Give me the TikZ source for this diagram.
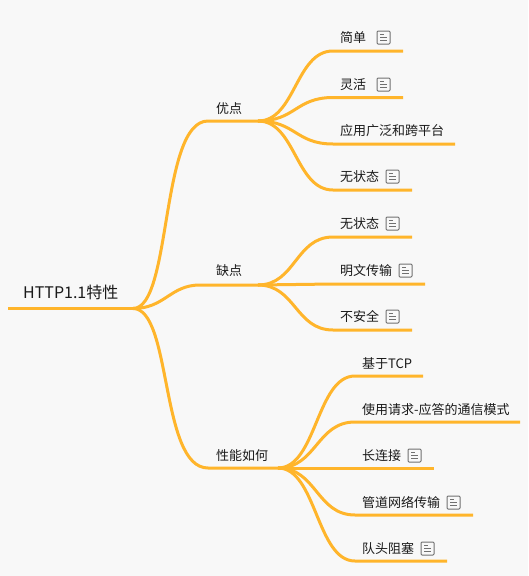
\documentclass[tikz,border=0pt]{standalone}
\usepackage{fontspec}
\setmainfont{Noto Sans CJK SC}
\usetikzlibrary{calc}
\definecolor{bg}{HTML}{F8F8F8}
\definecolor{wire}{HTML}{FFB52B}
\definecolor{ink}{HTML}{1A1A1A}
\definecolor{icon}{HTML}{707070}
\tikzset{
  wireline/.style={draw=wire,line width=3pt,line cap=butt,line join=round},
  label/.style={inner sep=0pt,anchor=west,text=ink,font=\fontsize{13}{15}\selectfont},
  rootlabel/.style={inner sep=0pt,anchor=west,text=ink,font=\fontsize{16}{18}\selectfont},
  noteicon/.style={draw=icon,line width=1pt,rounded corners=1pt,minimum size=13pt,inner sep=0pt,
    path picture={
      \draw[icon,line width=1pt]
        ($(path picture bounding box.center)+(-3.5,-3)$)--++(4,0)
        ($(path picture bounding box.center)+(-3.5,0)$)--++(7,0)
        ($(path picture bounding box.center)+(-3.5,3)$)--++(7,0);
    }},
}
\newcommand{\wire}[5]{% name, hub, curve end x, y, stop x
  \coordinate (#1-a) at (#3,#4);
  \coordinate (#1-b) at (#5,#4);
  \coordinate (#1-m) at ($(#2)!0.5!(#1-a)$);
  \path[wireline] (#2) .. controls (#1-m |- #2) and (#1-m |- #1-a) .. (#1-a) -- (#1-b);
}
\begin{document}
\begin{tikzpicture}[x=1pt,y=-1pt]
\useasboundingbox[fill=bg] (0,0) rectangle (528,576);
% root
\coordinate (rootstart) at (8,308.5);
\coordinate (hub) at (133,308.5);
\path[wireline] (rootstart) -- (hub);
\node[rootlabel] (root) at (23,292.5) {HTTP1.1特性};
% main branches
\coordinate (h1) at (258,121);
\coordinate (h2) at (258,285);
\coordinate (h3) at (278,468);
\coordinate (b1t) at (208,121);
\coordinate (b2t) at (200,285);
\coordinate (b3t) at (208,468);
\path[wireline] (hub) .. controls (172,308.5) and (160,121) .. (b1t) -- (h1);
\path[wireline] (hub) .. controls (165,308.5) and (170,285) .. (b2t) -- (h2);
\path[wireline] (hub) .. controls (172,308.5) and (160,468) .. (b3t) -- (h3);
\node[label] (n1) at (216,108.5) {优点};
\node[label] (n2) at (216,270.5) {缺点};
\node[label] (n3) at (216,455.5) {性能如何};
% children of 优点
\wire{a1}{h1}{333}{51}{403}
\wire{a2}{h1}{333}{97.5}{403}
\wire{a3}{h1}{333}{144}{455}
\wire{a4}{h1}{333}{190}{412}
\node[label] (ta1) at (340,37.5) {简单};
\node[noteicon] (ia1) at (383.5,37.5) {};
\node[label] (ta2) at (340,84.5) {灵活};
\node[noteicon] (ia2) at (383.5,84.5) {};
\node[label] (ta3) at (340,130.5) {应用广泛和跨平台};
\node[label] (ta4) at (340,176.5) {无状态};
\node[noteicon] (ia4) at (392.5,176.5) {};
% children of 缺点
\wire{b1}{h2}{333}{237}{412}
\wire{b2}{h2}{333}{284}{425}
\wire{b3}{h2}{333}{330}{412}
\node[label] (tb1) at (340,223.5) {无状态};
\node[noteicon] (ib1) at (392.5,223.5) {};
\node[label] (tb2) at (340,270.5) {明文传输};
\node[noteicon] (ib2) at (405.5,270.5) {};
\node[label] (tb3) at (340,316.5) {不安全};
\node[noteicon] (ib3) at (392.5,316.5) {};
% children of 性能如何
\wire{c1}{h3}{355}{376}{423}
\wire{c2}{h3}{355}{422}{520}
\wire{c3}{h3}{355}{468}{434}
\wire{c4}{h3}{355}{515}{473}
\wire{c5}{h3}{355}{561}{447}
\node[label] (tc1) at (362,363.5) {基于TCP};
\node[label] (tc2) at (362,409.5) {使用请求-应答的通信模式};
\node[label] (tc3) at (362,455.5) {长连接};
\node[noteicon] (ic3) at (414.5,455.5) {};
\node[label] (tc4) at (362,502.5) {管道网络传输};
\node[noteicon] (ic4) at (453.5,502.5) {};
\node[label] (tc5) at (362,548.5) {队头阻塞};
\node[noteicon] (ic5) at (427.5,548.5) {};
\end{tikzpicture}
\end{document}
